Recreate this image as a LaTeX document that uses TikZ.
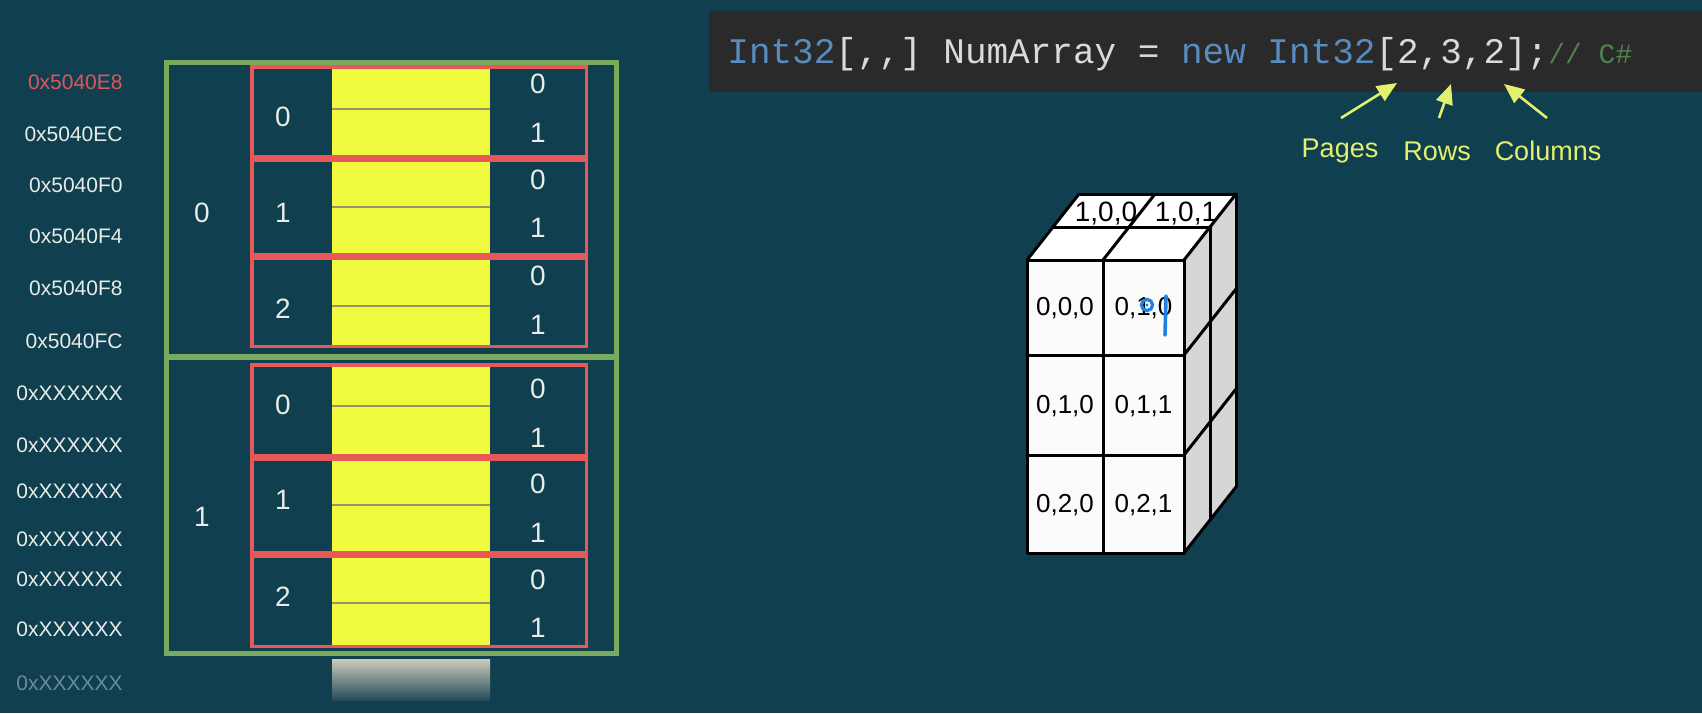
\documentclass[tikz,border=0pt]{standalone}
\usepackage{fontspec}
\setmainfont{Liberation Sans}
\setmonofont{Liberation Mono}
\usetikzlibrary{arrows.meta}
\definecolor{bg}{RGB}{16,64,80}
\definecolor{codebg}{RGB}{42,42,42}
\definecolor{codeblue}{RGB}{88,140,190}
\definecolor{codewhite}{RGB}{218,218,218}
\definecolor{codegreen}{RGB}{80,130,80}
\definecolor{grn}{RGB}{122,170,94}
\definecolor{redb}{RGB}{232,88,88}
\definecolor{yel}{RGB}{240,250,62}
\definecolor{yline}{RGB}{150,150,100}
\definecolor{lab}{RGB}{232,236,232}
\definecolor{addrred}{RGB}{224,86,92}
\definecolor{addrfade}{RGB}{105,140,150}
\definecolor{note}{RGB}{226,240,110}
\definecolor{sideg}{RGB}{214,214,214}
\definecolor{ink}{RGB}{30,130,225}
\definecolor{fadetop}{RGB}{204,204,188}
\begin{document}
\begin{tikzpicture}[x=0.5pt,y=-0.5pt,
  addr/.style={anchor=east, inner sep=0pt, text=lab, font=\fontsize{10.5}{12}\selectfont},
  memlab/.style={inner sep=0pt, text=lab, font=\fontsize{14}{16}\selectfont},
  cubelab/.style={inner sep=0pt, text=black, font=\fontsize{13}{15}\selectfont},
  notelab/.style={inner sep=0pt, text=note, font=\fontsize{13.5}{15}\selectfont},
  notearrow/.style={draw=note, line width=1.3pt, -{Triangle[length=10pt,width=8.5pt]}},
  redrow/.style={draw=redb, line width=1.75pt},
  cubeline/.style={draw=black, line width=1.5pt, line join=round, line cap=round}]
\fill[bg] (0,0) rectangle (1702,713);
\useasboundingbox (0,0) rectangle (1702,713);

% ---------- memory layout ----------
\foreach \t/\b/\g in {65/158.5/109, 158.5/256.5/207, 256.5/348/306,
                      363/457/406, 457/554.5/505, 554.5/648/603}{
  \fill[yel] (332,\t) rectangle (490,\b);
  \draw[yline, line width=0.75pt] (332,\g) -- (490,\g);
}
\draw[grn, line width=2.5pt] (166.5,62.5) rectangle (616.5,653.5);
\draw[grn, line width=3pt] (166.5,357) -- (616.5,357);
\foreach \t/\b in {65/158.5, 158.5/256.5, 256.5/348, 363/457, 457/554.5, 554.5/648}{
  \draw[redrow] (251.75,\t+1.75) rectangle (586.25,\b-1.75);
}
\shade[top color=fadetop, bottom color=bg!80!gray] (332,659) rectangle (490,700);

% page labels
\node[memlab] (p0) at (202,213) {0};
\node[memlab] (p1) at (202,517) {1};
% row labels
\foreach \y/\t [count=\i] in {117/0, 213/1, 309/2, 405/0, 500/1, 597/2}{
  \node[memlab] (r\i) at (283,\y) {\t};
}
% column labels
\foreach \y/\t [count=\i] in {84/0, 133/1, 180/0, 228/1, 276/0, 325/1,
                              389/0, 438/1, 484/0, 533/1, 580/0, 628/1}{
  \node[memlab] (c\i) at (538,\y) {\t};
}
% addresses
\node[addr, text=addrred] (a1) at (123,82.5) {0x5040E8};
\node[addr] (a2) at (123,134.6) {0x5040EC};
\node[addr] (a3) at (123,185.6) {0x5040F0};
\node[addr] (a4) at (123,236.6) {0x5040F4};
\node[addr] (a5) at (123,288.7) {0x5040F8};
\node[addr] (a6) at (123,340.8) {0x5040FC};
\node[addr] (a7) at (123,393) {0xXXXXXX};
\node[addr] (a8) at (123,445) {0xXXXXXX};
\node[addr] (a9) at (123,491.7) {0xXXXXXX};
\node[addr] (a10) at (123,539.5) {0xXXXXXX};
\node[addr] (a11) at (123,579.7) {0xXXXXXX};
\node[addr] (a12) at (123,629.6) {0xXXXXXX};
\node[addr, text=addrfade] (a13) at (123,682.8) {0xXXXXXX};

% ---------- code line ----------
\fill[codebg] (709,11) rectangle (1702,92);
\node[anchor=base west, inner sep=0pt, font=\ttfamily\fontsize{18}{20}\selectfont] (code) at (727,63)
  {{\color{codeblue}Int32}{\color{codewhite}[,,] NumArray = }{\color{codeblue}new Int32}{\color{codewhite}[2,3,2];}{\fontsize{14}{16}\selectfont\color{codegreen}// C\#}};

\coordinate (tipP) at (1397,83);
\coordinate (tipR) at (1451,84);
\coordinate (tipC) at (1504,84);
\coordinate (tailP) at (1341,118);
\coordinate (tailR) at (1439,118);
\coordinate (tailC) at (1547,118);
\node[notelab] (pages) at (1340,151) {Pages};
\node[notelab] (rows) at (1437,151) {Rows};
\node[notelab] (cols) at (1548,151) {Columns};
\draw[notearrow] (tailP) -- (tipP);
\draw[notearrow] (tailR) -- (tipR);
\draw[notearrow] (tailC) -- (tipC);

% ---------- cube ----------
\def\Xa{1027}\def\Xb{1103}\def\Xc{1184}
\def\Ya{260}\def\Yb{355}\def\Yc{455}\def\Yd{553}
\fill[white!97!gray] (\Xa,\Ya) rectangle (\Xc,\Yd);
\fill[white] (\Xa,\Ya) -- (\Xc,\Ya) -- (\Xc+52,\Ya-66) -- (\Xa+52,\Ya-66) -- cycle;
\fill[sideg] (\Xc,\Ya) -- (\Xc+52,\Ya-66) -- (\Xc+52,\Yd-66) -- (\Xc,\Yd) -- cycle;
\node[cubelab, font=\fontsize{14}{16}\selectfont] (b100) at (1106,214) {1,0,0};
\node[cubelab, font=\fontsize{14}{16}\selectfont] (b101) at (1186,214) {1,0,1};
% front grid
\draw[cubeline] (\Xa,\Ya) rectangle (\Xc,\Yd);
\draw[cubeline] (\Xb,\Ya) -- (\Xb,\Yd);
\draw[cubeline] (\Xa,\Yb) -- (\Xc,\Yb);
\draw[cubeline] (\Xa,\Yc) -- (\Xc,\Yc);
% top
\draw[cubeline] (\Xa+26,\Ya-33) -- (\Xc+26,\Ya-33);
\draw[cubeline] (\Xa+52,\Ya-66) -- (\Xc+52,\Ya-66);
\draw[cubeline] (\Xa,\Ya) -- (\Xa+52,\Ya-66);
\draw[cubeline] (\Xb,\Ya) -- (\Xb+52,\Ya-66);
\draw[cubeline] (\Xc,\Ya) -- (\Xc+52,\Ya-66);
% side
\draw[cubeline] (\Xc+26,\Ya-33) -- (\Xc+26,\Yd-33);
\draw[cubeline] (\Xc+52,\Ya-66) -- (\Xc+52,\Yd-66);
\draw[cubeline] (\Xc,\Yb) -- (\Xc+52,\Yb-66);
\draw[cubeline] (\Xc,\Yc) -- (\Xc+52,\Yc-66);
\draw[cubeline] (\Xc,\Yd) -- (\Xc+52,\Yd-66);
% cell labels
\node[cubelab] (f000) at (1065,308) {0,0,0};
\node[cubelab] (f001) at (1143.5,308) {0,1,0};
\node[cubelab] (f010) at (1065,406) {0,1,0};
\node[cubelab] (f011) at (1143.5,406) {0,1,1};
\node[cubelab] (f020) at (1065,505) {0,2,0};
\node[cubelab] (f021) at (1143.5,505) {0,2,1};
% handwritten annotation
\draw[ink, line width=1.6pt] (1147,305) circle[radius=2.8pt];
\fill[ink] (1147,305) circle[radius=0.8pt];
\draw[ink, line width=1.8pt, line cap=round] (1166,296) -- (1165,335);
\end{tikzpicture}
\end{document}
